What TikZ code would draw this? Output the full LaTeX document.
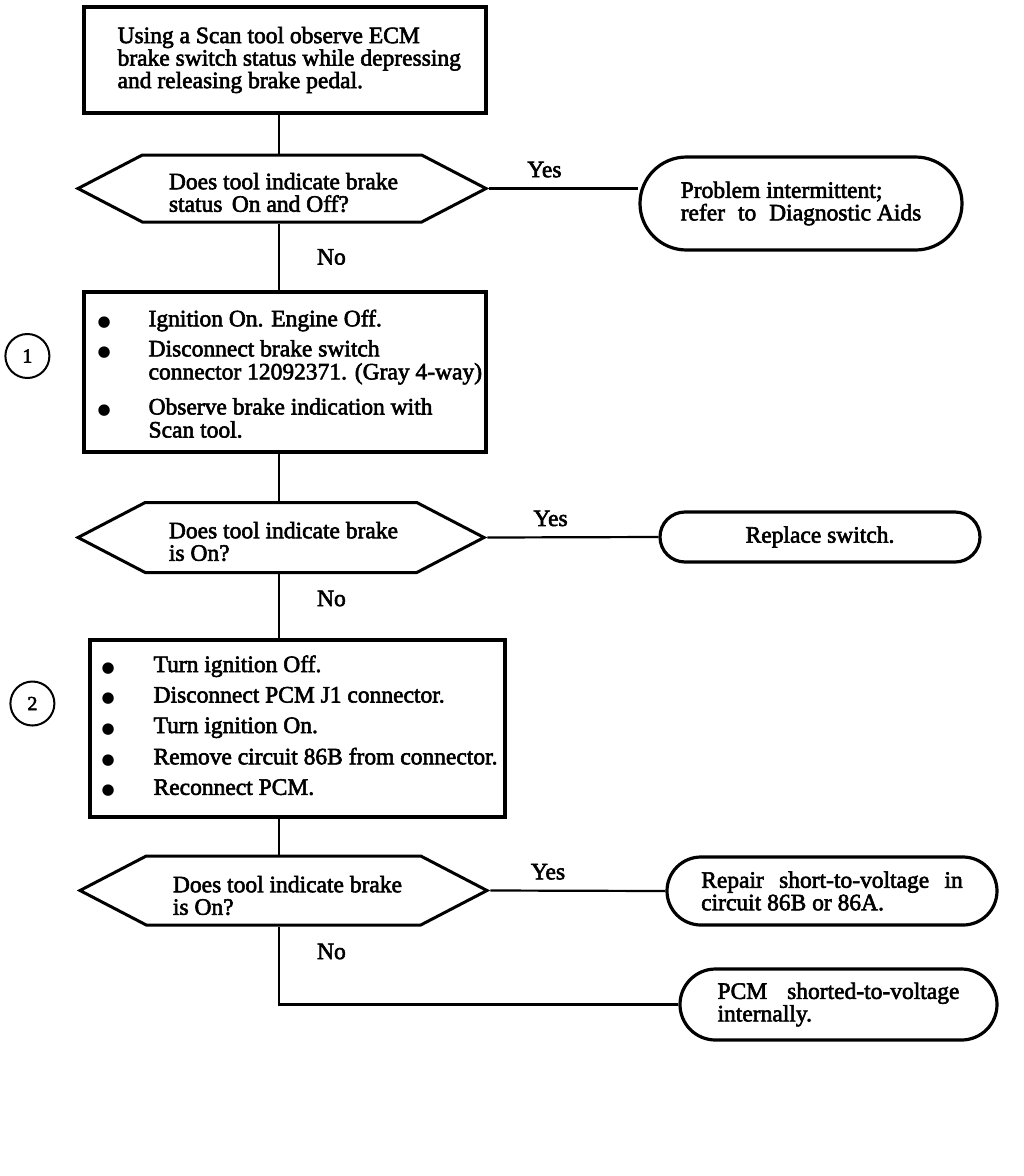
\documentclass[tikz,border=0pt]{standalone}
\usepackage{fontspec}
\setmainfont{Liberation Serif}[FakeBold=2.5]
\newfontfamily\dotfont{DejaVu Sans}
\usepackage{tikz}
\usetikzlibrary{shapes.symbols,shapes.misc,positioning}
\tikzstyle{stepbox} = [draw, line width=3.2pt, rectangle, inner sep=0pt]
\tikzstyle{query} = [draw, line width=3pt, signal, signal to=west and east, signal pointer angle=55, inner sep=0pt]
\tikzstyle{outcome} = [draw, line width=3.2pt, rounded rectangle, align=left, inner sep=0pt]
\tikzstyle{tag} = [draw, circle, line width=2pt, minimum size=44pt, inner sep=0pt, font=\fontsize{20}{20}\selectfont]
\tikzstyle{txt} = [align=left, inner sep=0pt]
\tikzstyle{answer} = [inner sep=0pt]
\tikzstyle{link} = [line width=2.2pt]
\newcommand{\blt}{{\dotfont\fontsize{15}{22}\selectfont ●}}

\begin{document}
\begin{tikzpicture}[x=1pt, y=-1pt, every node/.style={font=\fontsize{23.5}{22.5}\selectfont}]
    \useasboundingbox (0,0) rectangle (1024,1176);
    \coordinate (trunk) at (279,0);

    % First check
    \node[stepbox, minimum width=402pt, minimum height=106pt] (scan) at (285,60) {};
    \node[txt, right=35pt of scan.west] (scantext) {Using a Scan tool observe ECM\\brake switch status while depressing\\and releasing brake pedal.};

    \node[query, minimum width=408pt, minimum height=67pt] (q1) at (282,188.5) {};
    \node[txt, right=94pt of q1.west, yshift=-4pt] (q1text) {Does tool indicate brake\\status\hspace{0.15em} On and Off?};
    \node[outcome, minimum width=322pt, minimum height=93pt] (intermit) at (801,203.5) {Problem intermittent;\\refer\hspace{0.3em} to\hspace{0.3em} Diagnostic Aids};

    % Step 1
    \node[stepbox, minimum width=402pt, minimum height=160pt] (check1) at (285,372) {};
    \node[txt, right=15pt of check1.west, yshift=-5pt] (list1) {%
        \begin{tabular}{@{}p{51pt}@{}l@{}}
        \blt & Ignition On. Engine Off.\\[7pt]
        \blt & Disconnect brake switch\\
             & connector 12092371. (Gray 4-way)\\[12pt]
        \blt & Observe brake indication with\\
             & Scan tool.
        \end{tabular}};
    \node[tag, left=32pt of check1.west, yshift=16pt] (mark1) {1};

    \node[query, minimum width=406pt, minimum height=70pt] (q2) at (281,537.5) {};
    \node[txt, right=94pt of q2.west, yshift=-4pt] (q2text) {Does tool indicate brake\\is On?};
    \node[outcome, minimum width=320pt, minimum height=50pt] (replace) at (820,537) {Replace switch.};

    % Step 2
    \node[stepbox, minimum width=415pt, minimum height=177pt] (check2) at (297.5,728.5) {};
    \node[txt, right=13pt of check2.west, yshift=0pt] (list2) {%
        \begin{tabular}{@{}p{52pt}@{}l@{}}
        \blt & Turn ignition Off.\\[8pt]
        \blt & Disconnect PCM J1 connector.\\[8pt]
        \blt & Turn ignition On.\\[8pt]
        \blt & Remove circuit 86B from connector.\\[8pt]
        \blt & Reconnect PCM.
        \end{tabular}};
    \node[tag, left=33pt of check2.west, yshift=25pt] (mark2) {2};

    \node[query, minimum width=407pt, minimum height=69pt] (q3) at (283.5,890.5) {};
    \node[txt, right=96pt of q3.west, yshift=-5pt] (q3text) {Does tool indicate brake\\is On?};
    \node[outcome, minimum width=330pt, minimum height=68pt] (repair) at (832,891) {Repair\hspace{0.4em} short-to-voltage\hspace{0.4em} in\\circuit 86B or 86A.};
    \node[outcome, minimum width=317pt, minimum height=71pt] (pcm) at (838.5,1004.5) {PCM\hspace{0.6em} shorted-to-voltage\\internally.};

    % Connectors
    \draw[link] (scan.south -| trunk) -- (q1.north -| trunk);
    \draw[link] (q1.east) -- node[answer, above=10pt, pos=0.37] (yes1) {Yes} (intermit.west |- q1.east);
    \draw[link] (q1.south -| trunk) -- node[answer, right=37pt] (no1) {No} (check1.north -| trunk);
    \draw[link] (check1.south -| trunk) -- (q2.north -| trunk);
    \draw[link] (q2.east) -- node[answer, above=10pt, pos=0.37] (yes2) {Yes} (replace.west);
    \draw[link] (q2.south -| trunk) -- node[answer, right=37pt, pos=0.38] (no2) {No} (check2.north -| trunk);
    \draw[link] (check2.south -| trunk) -- (q3.north -| trunk);
    \draw[link] (q3.east) -- node[answer, above=10pt, pos=0.33] (yes3) {Yes} (repair.west);
    \draw[link] (q3.south -| trunk) |- node[answer, right=37pt, pos=0.16] (no3) {No} (pcm.west);
\end{tikzpicture}
\end{document}
